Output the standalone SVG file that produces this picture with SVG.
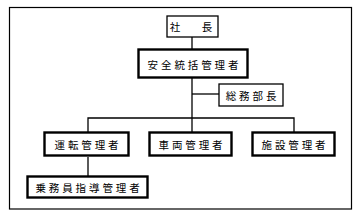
<svg xmlns="http://www.w3.org/2000/svg" width="360" height="216" viewBox="0 0 360 216">
<style>
.frame{fill:#fff;stroke:#000;stroke-width:1.2}
.thin{fill:#fff;stroke:#000;stroke-width:1.3}
.thick{fill:#fff;stroke:#000;stroke-width:2.4}
.line{fill:none;stroke:#000;stroke-width:1.3}
text{font-family:"Noto Sans CJK JP","Noto Sans CJK SC",sans-serif;font-size:10.5px;fill:#000;text-anchor:middle;dominant-baseline:central;letter-spacing:2.9px}
</style>
<rect x="0" y="0" width="360" height="216" fill="#fff"/>
<rect class="frame" x="9.5" y="7.5" width="342" height="201.5"/>
<g id="connectors">
<path class="line" d="M192 37V49"/>
<path class="line" d="M192 78V132"/>
<path class="line" d="M192 94H219"/>
<path class="line" d="M88 132V118H294V132"/>
<path class="line" d="M88 157V176"/>
</g>
<g id="shacho">
<rect class="thin" x="167" y="16" width="51" height="21"/>
<text x="175 207" y="26.5" style="letter-spacing:0">社長</text>
</g>
<g id="anzen">
<rect class="thick" x="138.5" y="49.5" width="109" height="28"/>
<text x="194.5" y="64">安全統括管理者</text>
</g>
<g id="somu">
<rect class="thin" x="219" y="84" width="64" height="22"/>
<text x="252.5" y="95">総務部長</text>
</g>
<g id="unten">
<rect class="thick" x="44.5" y="132.5" width="84" height="23"/>
<text x="88" y="144">運転管理者</text>
</g>
<g id="sharyo">
<rect class="thick" x="149.5" y="132.5" width="82" height="23"/>
<text x="192" y="144">車両管理者</text>
</g>
<g id="shisetsu">
<rect class="thick" x="252.5" y="132.5" width="82" height="23"/>
<text x="295" y="144">施設管理者</text>
</g>
<g id="jomuin">
<rect class="thick" x="27.5" y="176.5" width="120" height="21"/>
<text x="89" y="187">乗務員指導管理者</text>
</g>
</svg>
